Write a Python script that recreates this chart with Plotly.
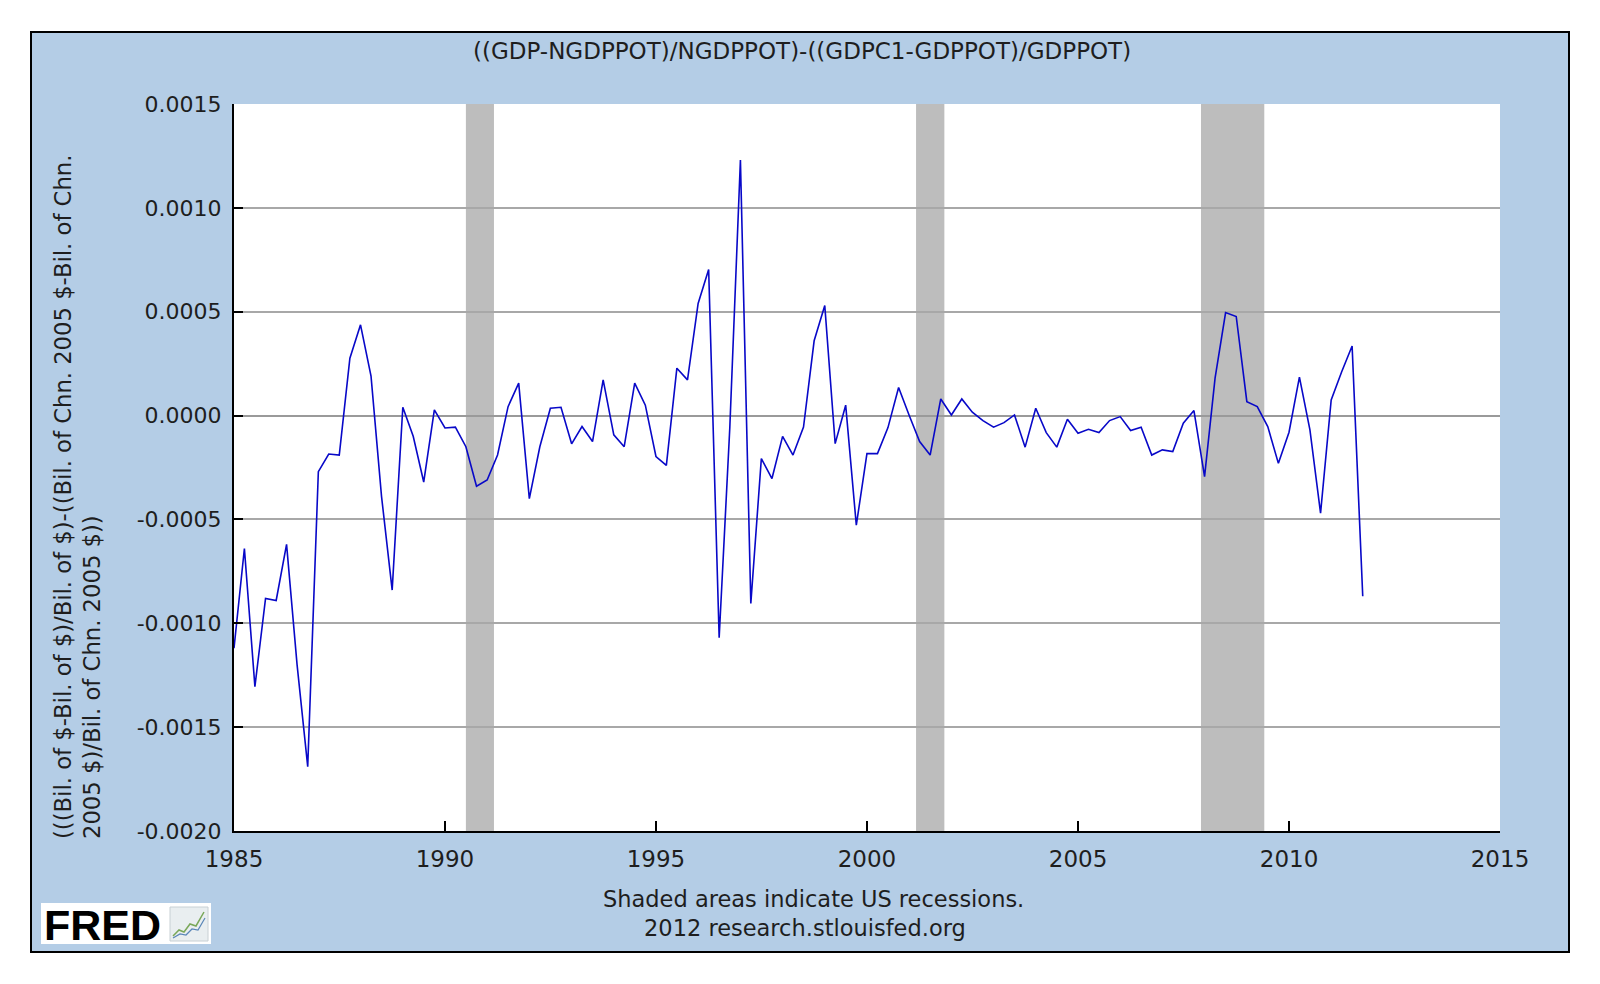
import plotly.graph_objects as go
import pandas as pd

# ---------------- data ----------------
first_quarter = "1985-01-01"
# quarterly values, 1985Q1 .. 2011Q4
series_values = [
    -0.001120, -0.000640, -0.001305, -0.000880, -0.000890, -0.000620, -0.001200, -0.001690,
    -0.000270, -0.000185, -0.000190, 0.000276, 0.000437, 0.000190, -0.000390, -0.000840,
    0.000040, -0.000100, -0.000320, 0.000027, -0.000060, -0.000056, -0.000150, -0.000340,
    -0.000310, -0.000190, 0.000043, 0.000156, -0.000400, -0.000150, 0.000035, 0.000040,
    -0.000136, -0.000053, -0.000125, 0.000172, -0.000093, -0.000150, 0.000156, 0.000050,
    -0.000197, -0.000240, 0.000228, 0.000172, 0.000540, 0.000703, -0.001070, -0.000060,
    0.001230, -0.000905, -0.000207, -0.000303, -0.000100, -0.000190, -0.000055, 0.000360,
    0.000530, -0.000135, 0.000050, -0.000528, -0.000183, -0.000183, -0.000058, 0.000135,
    0.000000, -0.000125, -0.000190, 0.000080, 0.000003, 0.000080, 0.000016, -0.000024,
    -0.000056, -0.000034, 0.000003, -0.000152, 0.000035, -0.000082, -0.000152, -0.000018,
    -0.000085, -0.000066, -0.000082, -0.000024, -0.000005, -0.000072, -0.000056, -0.000190,
    -0.000165, -0.000173, -0.000037, 0.000024, -0.000294, 0.000180, 0.000496, 0.000477,
    0.000067, 0.000043, -0.000053, -0.000230, -0.000080, 0.000185, -0.000069, -0.000470,
    0.000075, 0.000210, 0.000335, -0.000870,
]
recession_starts = ["1990-07-01", "2001-03-01", "2007-12-01"]
recession_ends = ["1991-03-01", "2001-11-01", "2009-06-01"]
y_tick_values = [0.0015, 0.0010, 0.0005, 0.0, -0.0005, -0.0010, -0.0015, -0.0020]
y_tick_labels = ["0.0015", "0.0010", "0.0005", "0.0000", "-0.0005", "-0.0010", "-0.0015", "-0.0020"]
x_tick_years = [1985, 1990, 1995, 2000, 2005, 2010, 2015]

title_text = "((GDP-NGDPPOT)/NGDPPOT)-((GDPC1-GDPPOT)/GDPPOT)"
ytitle_line1 = "(((Bil. of $-Bil. of $)/Bil. of $)-((Bil. of Chn. 2005 $-Bil. of Chn."
ytitle_line2 = "2005 $)/Bil. of Chn. 2005 $))"
note_line1 = "Shaded areas indicate US recessions."
note_line2 = "2012 research.stlouisfed.org"

dates = pd.date_range(first_quarter, periods=len(series_values), freq="QS")

# ---------------- layout geometry (page pixels) ----------------
PAGE_OFF = 8                 # default body margin of the html page
W, H = 1600 - PAGE_OFF, 984 - PAGE_OFF
PL, PR, PT, PB = 234, 1500, 104, 831   # plot area in page pixels
PW, PH = PR - PL, PB - PT


def px(x):
    return (x - PL) / PW


def py(y):
    return (PB - y) / PH


FONT = "DejaVu Sans, Verdana, sans-serif"
TXT = "#1e1e1e"

fig = go.Figure()
fig.add_trace(go.Scatter(
    x=dates, y=series_values, mode="lines",
    line=dict(color="#0808c8", width=1.6),
    hoverinfo="skip", showlegend=False,
))

shapes = []
shapes.append(dict(type="rect", xref="paper", yref="paper",
                   x0=px(31), x1=px(1569), y0=py(952), y1=py(32),
                   fillcolor="#b4cde6", line=dict(color="#000000", width=2),
                   layer="below"))
shapes.append(dict(type="rect", xref="paper", yref="paper",
                   x0=0, x1=1, y0=0, y1=1,
                   fillcolor="#ffffff", line=dict(width=0), layer="below"))
for s, e in zip(recession_starts, recession_ends):
    shapes.append(dict(type="rect", xref="x", yref="paper", x0=s, x1=e, y0=0, y1=1,
                       fillcolor="#bdbdbd", line=dict(width=0), layer="between"))
# FRED logo
shapes.append(dict(type="rect", xref="paper", yref="paper",
                   x0=px(41), x1=px(211), y0=py(944), y1=py(903),
                   fillcolor="#ffffff", line=dict(width=0), layer="above"))
shapes.append(dict(type="rect", xref="paper", yref="paper",
                   x0=px(170), x1=px(208), y0=py(941), y1=py(907),
                   fillcolor="#e9eef0", line=dict(color="#c8d0d4", width=1), layer="above"))


def path_of(points):
    return "M " + " L ".join(f"{px(a):.5f},{py(b):.5f}" for a, b in points)


shapes.append(dict(type="path", xref="paper", yref="paper",
                   path=path_of([(173, 936), (179, 930), (184, 932), (190, 924), (196, 926), (204, 912)]),
                   line=dict(color="#7aa85a", width=1.5), layer="above"))
shapes.append(dict(type="path", xref="paper", yref="paper",
                   path=path_of([(173, 938), (180, 934), (186, 935), (192, 929), (198, 930), (205, 918)]),
                   line=dict(color="#5a86b8", width=1.2), layer="above"))

annotations = [
    dict(text=title_text, xref="paper", yref="paper", x=px(802), y=py(51),
         xanchor="center", yanchor="middle", showarrow=False,
         font=dict(family=FONT, size=23, color=TXT)),
    dict(text=ytitle_line1, xref="paper", yref="paper", x=px(63), y=py(841),
         xanchor="center", yanchor="bottom", textangle=-90, showarrow=False,
         font=dict(family=FONT, size=22.7, color=TXT)),
    dict(text=ytitle_line2, xref="paper", yref="paper", x=px(92), y=py(841),
         xanchor="center", yanchor="bottom", textangle=-90, showarrow=False,
         font=dict(family=FONT, size=22.7, color=TXT)),
    dict(text=note_line1, xref="paper", yref="paper", x=px(813), y=py(899),
         xanchor="center", yanchor="middle", showarrow=False,
         font=dict(family=FONT, size=22.5, color=TXT)),
    dict(text=note_line2, xref="paper", yref="paper", x=px(805), y=py(928),
         xanchor="center", yanchor="middle", showarrow=False,
         font=dict(family=FONT, size=22.5, color=TXT)),
    dict(text="<b>FRED</b>", xref="paper", yref="paper", x=px(42), y=py(925),
         xanchor="left", yanchor="middle", showarrow=False,
         font=dict(family="Liberation Sans, Arial, sans-serif", size=43, color="#000000")),
]

fig.update_layout(
    width=W, height=H,
    margin=dict(l=PL - PAGE_OFF, r=W - (PR - PAGE_OFF), t=PT - PAGE_OFF,
                b=H - (PB - PAGE_OFF), pad=0),
    paper_bgcolor="#ffffff",
    plot_bgcolor="rgba(0,0,0,0)",
    shapes=shapes,
    annotations=annotations,
    showlegend=False,
    xaxis=dict(
        type="date",
        range=[f"{x_tick_years[0]}-01-01", f"{x_tick_years[-1]}-01-01"],
        tickvals=[f"{y}-01-01" for y in x_tick_years],
        ticktext=[str(y) for y in x_tick_years],
        ticks="inside", ticklen=10, tickwidth=1.5, tickcolor="#000000",
        showline=True, linecolor="#000000", linewidth=2,
        showgrid=False, zeroline=False,
        tickfont=dict(family=FONT, size=23, color=TXT),
        ticklabelstandoff=6,
        fixedrange=True,
    ),
    yaxis=dict(
        range=[-0.0020, 0.0015],
        tickvals=y_tick_values, ticktext=y_tick_labels,
        ticks="inside", ticklen=9, tickwidth=2, tickcolor="#000000",
        showline=True, linecolor="#000000", linewidth=2,
        showgrid=True, gridcolor="#a8a8a8", gridwidth=1.5,
        zeroline=True, zerolinecolor="#9a9a9a", zerolinewidth=2,
        tickfont=dict(family=FONT, size=22, color=TXT),
        ticklabelstandoff=6,
        fixedrange=True,
    ),
)

fig.write_html("out.html")
